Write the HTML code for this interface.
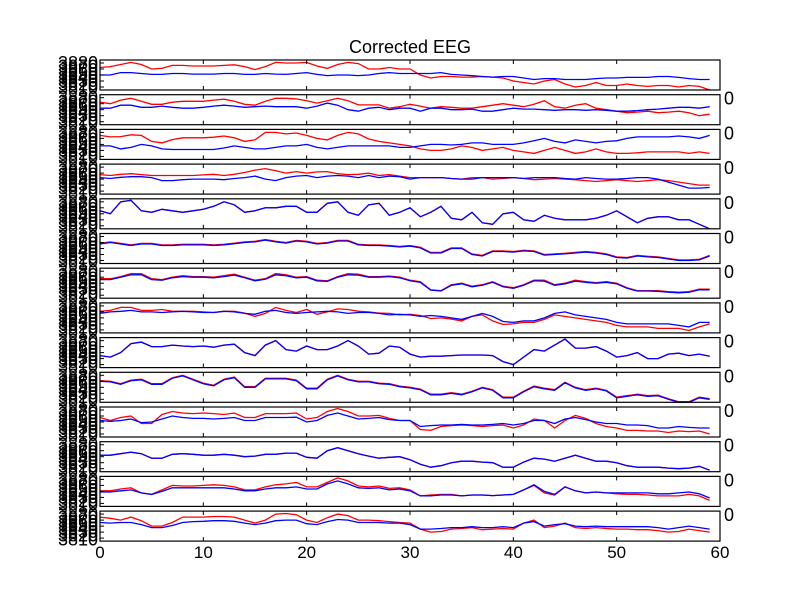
<!DOCTYPE html>
<html><head><meta charset="utf-8"><style>
body{margin:0;background:#fff;width:800px;height:600px;overflow:hidden}
svg{display:block;font-family:"Liberation Sans","DejaVu Sans",sans-serif}
</style></head><body>
<svg id="chart" width="800" height="600" viewBox="0 0 800 600">
<rect width="800" height="600" fill="#fff"/>
<text x="410" y="53" text-anchor="middle" font-size="18">Corrected EEG</text>
</svg>
<script>
const xTicks=[0,10,20,30,40,50,60];
const yTickLabels=["3880","3870","3860","3850","3840","3830","3820","3810"];
const red1=[.75,.78,.85,.92,.85,.70,.72,.82,.82,.80,.80,.80,.82,.84,.78,.68,.78,.92,.90,.90,.92,.80,.72,.85,.92,.88,.70,.70,.75,.70,.70,.50,.40,.45,.45,.43,.43,.45,.43,.40,.30,.25,.20,.30,.35,.20,.10,.15,.25,.15,.15,.20,.15,.12,.15,.15,.10,.15,.12,.0];
const blue1=[.50,.50,.58,.58,.55,.52,.52,.55,.55,.53,.53,.53,.55,.55,.52,.52,.55,.53,.52,.55,.58,.52,.48,.50,.50,.48,.50,.55,.58,.55,.55,.55,.55,.58,.52,.50,.48,.45,.43,.45,.45,.40,.35,.38,.38,.35,.35,.35,.38,.40,.40,.42,.42,.42,.45,.45,.42,.38,.35,.35];
const red2=[.75,.7,.82,.88,.78,.68,.68,.75,.78,.78,.78,.82,.85,.78,.68,.65,.78,.88,.88,.86,.80,.72,.80,.88,.80,.66,.66,.66,.55,.60,.68,.62,.55,.60,.58,.55,.55,.60,.65,.70,.65,.60,.68,.80,.60,.55,.65,.70,.55,.50,.45,.40,.42,.45,.40,.42,.45,.40,.30,.35];
const blue2=[.55,.55,.65,.65,.58,.58,.62,.58,.55,.55,.58,.62,.65,.62,.58,.60,.62,.60,.60,.60,.55,.62,.72,.65,.50,.45,.55,.58,.50,.55,.55,.45,.55,.55,.50,.50,.52,.45,.45,.50,.55,.52,.52,.50,.48,.50,.50,.48,.50,.48,.45,.45,.47,.50,.52,.55,.58,.58,.55,.60];
const red3=[.8,.75,.76,.82,.80,.60,.55,.66,.72,.72,.72,.74,.78,.72,.60,.65,.90,.90,.85,.88,.80,.70,.65,.80,.90,.85,.68,.60,.55,.50,.45,.35,.30,.30,.35,.45,.40,.30,.35,.40,.30,.25,.20,.30,.40,.30,.20,.25,.35,.25,.20,.20,.22,.25,.25,.25,.25,.20,.25,.20];
const blue3=[.45,.45,.35,.40,.50,.45,.35,.33,.33,.33,.33,.33,.38,.45,.40,.35,.35,.40,.45,.45,.50,.40,.35,.40,.45,.45,.45,.45,.45,.40,.40,.45,.50,.50,.48,.50,.55,.55,.50,.50,.50,.55,.62,.70,.60,.55,.65,.60,.55,.60,.62,.70,.75,.75,.75,.75,.78,.75,.70,.80];
const red4=[.65,.62,.66,.68,.65,.62,.62,.62,.62,.62,.64,.66,.62,.66,.72,.80,.85,.78,.70,.75,.70,.74,.75,.68,.65,.66,.70,.62,.65,.60,.55,.55,.55,.55,.52,.50,.55,.55,.50,.52,.55,.52,.48,.50,.52,.50,.48,.45,.42,.45,.48,.45,.42,.45,.48,.45,.40,.35,.30,.30];
const blue4=[.55,.52,.56,.58,.58,.55,.45,.45,.48,.50,.50,.50,.48,.52,.55,.60,.50,.45,.55,.60,.62,.55,.60,.62,.60,.55,.62,.55,.60,.58,.50,.55,.55,.55,.52,.50,.50,.55,.55,.55,.55,.52,.55,.55,.55,.52,.50,.55,.52,.50,.50,.52,.55,.55,.50,.40,.30,.20,.20,.22];
const red5=[.6,.5,.9,.95,.6,.55,.65,.6,.55,.6,.65,.75,.9,.8,.55,.6,.7,.7,.75,.75,.55,.55,.85,.9,.55,.45,.8,.85,.45,.55,.7,.4,.55,.75,.35,.3,.55,.2,.15,.5,.55,.3,.25,.45,.35,.3,.3,.3,.35,.45,.6,.4,.2,.35,.4,.4,.3,.3,.15,.0];
const blue5=red5;
const red6=[.67,.72,.67,.62,.67,.67,.62,.62,.64,.64,.64,.62,.64,.68,.72,.74,.80,.74,.70,.77,.74,.67,.70,.77,.77,.64,.62,.62,.60,.57,.60,.54,.37,.37,.52,.52,.32,.27,.42,.42,.40,.44,.42,.30,.32,.34,.37,.40,.37,.32,.22,.20,.27,.24,.22,.17,.12,.12,.14,.27];
const blue6=[.65,.7,.65,.6,.65,.65,.6,.6,.62,.62,.62,.6,.62,.66,.7,.72,.78,.72,.68,.75,.72,.65,.68,.75,.75,.62,.6,.6,.58,.55,.58,.52,.35,.35,.50,.50,.30,.25,.40,.40,.38,.42,.40,.28,.30,.32,.35,.38,.35,.30,.20,.18,.25,.22,.20,.15,.10,.10,.12,.25];
const red7=[.65,.65,.72,.82,.82,.65,.62,.70,.75,.72,.72,.70,.75,.80,.70,.60,.65,.82,.78,.70,.72,.60,.58,.72,.82,.80,.72,.72,.74,.70,.60,.55,.28,.25,.45,.50,.40,.45,.55,.40,.35,.45,.60,.60,.45,.50,.60,.55,.52,.55,.50,.35,.25,.25,.25,.22,.20,.22,.30,.30];
const blue7=[.62,.62,.70,.78,.78,.62,.60,.68,.72,.70,.70,.68,.72,.77,.68,.58,.63,.78,.75,.68,.70,.58,.56,.70,.78,.77,.70,.70,.72,.68,.58,.53,.27,.24,.43,.48,.38,.43,.53,.38,.33,.43,.58,.57,.43,.48,.57,.53,.50,.53,.48,.33,.24,.24,.23,.20,.18,.20,.28,.28];
const red8=[.72,.75,.85,.85,.75,.75,.78,.72,.72,.72,.70,.68,.72,.72,.66,.55,.65,.85,.75,.68,.78,.62,.70,.80,.78,.72,.70,.66,.65,.60,.62,.58,.48,.50,.46,.40,.55,.60,.40,.28,.30,.35,.35,.45,.60,.55,.50,.45,.40,.35,.25,.20,.20,.20,.15,.15,.15,.08,.20,.30];
const blue8=[.65,.70,.72,.75,.70,.70,.68,.70,.72,.70,.68,.68,.72,.70,.65,.62,.72,.75,.68,.65,.68,.70,.72,.70,.65,.68,.68,.65,.60,.62,.60,.55,.58,.55,.50,.45,.55,.65,.55,.38,.35,.40,.40,.50,.65,.70,.60,.55,.50,.45,.35,.30,.30,.30,.30,.30,.25,.20,.35,.35];
const red9=[.4,.35,.5,.8,.85,.7,.7,.75,.72,.7,.72,.68,.75,.78,.5,.4,.75,.9,.6,.55,.72,.6,.6,.72,.9,.72,.45,.48,.72,.68,.45,.35,.38,.38,.4,.42,.42,.42,.40,.2,.1,.35,.6,.55,.75,.95,.65,.65,.70,.55,.35,.40,.50,.30,.30,.45,.48,.40,.45,.38];
const blue9=red9;
const red10=[.72,.70,.62,.74,.77,.62,.62,.82,.90,.77,.64,.57,.77,.84,.52,.52,.80,.80,.80,.74,.47,.47,.77,.90,.77,.70,.70,.64,.62,.54,.50,.44,.27,.27,.32,.27,.37,.50,.42,.17,.17,.37,.54,.47,.42,.67,.50,.42,.47,.40,.17,.22,.27,.22,.24,.12,.02,.02,.17,.12];
const blue10=[.7,.68,.6,.72,.75,.6,.6,.8,.88,.75,.62,.55,.75,.82,.5,.5,.78,.78,.78,.72,.45,.45,.75,.88,.75,.68,.68,.62,.60,.52,.48,.42,.25,.25,.30,.25,.35,.48,.40,.15,.15,.35,.52,.45,.40,.65,.48,.40,.45,.38,.15,.20,.25,.20,.22,.10,.0,.0,.15,.10];
const red11=[.65,.55,.65,.70,.45,.45,.75,.85,.80,.78,.80,.78,.75,.80,.65,.65,.78,.78,.78,.80,.60,.65,.85,.95,.85,.70,.70,.72,.62,.55,.55,.25,.22,.35,.38,.40,.38,.35,.38,.40,.30,.40,.60,.55,.30,.55,.72,.62,.45,.35,.30,.22,.22,.20,.20,.15,.20,.18,.20,.10];
const blue11=[.55,.52,.55,.60,.48,.50,.60,.70,.65,.62,.62,.60,.62,.65,.55,.55,.65,.65,.65,.66,.50,.55,.72,.80,.70,.60,.62,.65,.58,.55,.55,.35,.38,.40,.40,.42,.40,.40,.42,.45,.40,.45,.55,.55,.45,.60,.65,.58,.50,.45,.45,.40,.40,.38,.30,.30,.35,.32,.30,.30];
const red12=[.55,.55,.60,.65,.60,.45,.45,.58,.60,.58,.55,.55,.58,.55,.50,.52,.58,.58,.62,.62,.48,.45,.70,.80,.70,.60,.52,.45,.48,.50,.40,.25,.15,.20,.30,.35,.35,.32,.30,.15,.15,.32,.45,.42,.35,.45,.55,.45,.35,.35,.30,.20,.15,.15,.15,.12,.10,.12,.18,.05];
const blue12=red12;
const red13=[.52,.52,.58,.62,.45,.40,.55,.70,.68,.68,.70,.72,.70,.65,.55,.55,.65,.72,.75,.80,.65,.65,.80,.95,.85,.68,.65,.68,.60,.62,.55,.35,.38,.40,.40,.35,.38,.38,.36,.38,.40,.55,.70,.45,.38,.65,.52,.45,.48,.45,.42,.40,.40,.38,.35,.35,.35,.40,.35,.20];
const blue13=[.48,.48,.52,.55,.45,.40,.50,.62,.62,.62,.62,.62,.62,.58,.52,.52,.58,.62,.62,.65,.58,.58,.75,.85,.75,.62,.60,.62,.55,.58,.52,.35,.35,.38,.38,.35,.38,.38,.36,.38,.40,.55,.72,.50,.40,.65,.52,.45,.48,.45,.45,.45,.45,.45,.42,.42,.45,.48,.42,.28];
const red14=[.80,.76,.70,.80,.68,.50,.50,.62,.80,.80,.80,.82,.82,.80,.70,.60,.70,.90,.92,.88,.70,.62,.78,.90,.85,.70,.70,.68,.65,.62,.60,.40,.30,.32,.40,.42,.45,.38,.40,.42,.40,.60,.70,.45,.50,.60,.45,.42,.45,.42,.40,.40,.38,.38,.35,.30,.32,.40,.35,.30];
const blue14=[.62,.60,.62,.62,.55,.45,.45,.52,.62,.65,.66,.68,.68,.66,.60,.55,.60,.68,.70,.70,.58,.55,.65,.72,.70,.62,.62,.62,.60,.60,.55,.40,.40,.42,.45,.45,.48,.45,.45,.48,.45,.60,.65,.50,.55,.58,.50,.48,.50,.48,.48,.48,.48,.48,.45,.40,.45,.50,.45,.40];
const reds=[red1,red2,red3,red4,red5,red6,red7,red8,red9,red10,red11,red12,red13,red14];
const blues=[blue1,blue2,blue3,blue4,blue5,blue6,blue7,blue8,blue9,blue10,blue11,blue12,blue13,blue14];

const svg=document.getElementById('chart');
const NS='http://www.w3.org/2000/svg';
const X0=100,X1=720,TOP=60,STEP=34.7,H=30;
function xs(v){return X0+(v-0)/(60-0)*(X1-X0);}
function mk(t,a){const e=document.createElementNS(NS,t);for(const k in a)e.setAttribute(k,a[k]);svg.appendChild(e);return e;}
for(let i=0;i<reds.length;i++){
  const top=TOP+i*STEP, bot=top+H;
  const ys=v=>bot-v*H;
  const line=(arr,col,nm)=>{
    const p=mk('polyline',{points:arr.map((v,j)=>xs(j)+','+ys(v)).join(' '),fill:'none',stroke:col,'stroke-width':1.3});
    
    
  };
  line(reds[i],'#ff0000','red-series-'+(i+1));
  line(blues[i],'#0000ff','blue-series-'+(i+1));
  const fr=mk('rect',{x:X0,y:top,width:X1-X0,height:H,fill:'none',stroke:'#000','stroke-width':1.2});
  
  
  for(const t of xTicks){
    mk('line',{x1:xs(t),x2:xs(t),y1:top,y2:top+4,stroke:'#000'});
    mk('line',{x1:xs(t),x2:xs(t),y1:bot,y2:bot-4,stroke:'#000'});
  }
  for(let k=0;k<5;k++){const y=top+3+k*6;mk('line',{x1:X0,x2:X0+4,y1:y,y2:y,stroke:'#000'});}
  const g=mk('g',{'font-size':18});
  
  
  yTickLabels.forEach((s,k)=>{
    const t=document.createElementNS(NS,'text');
    t.setAttribute('x',98);t.setAttribute('y',top+9+k*3.6);t.setAttribute('text-anchor','end');
    t.textContent=s;g.appendChild(t);
  });
  if(i>0){
    const o=mk('text',{x:724,y:top+10,'font-size':18});
    o.textContent='0';
    
    
  }
}
for(const t of xTicks){
  const e=mk('text',{x:xs(t),y:558,'text-anchor':'middle','font-size':17});
  e.textContent=t;
  
  
}
</script>
</body></html>
